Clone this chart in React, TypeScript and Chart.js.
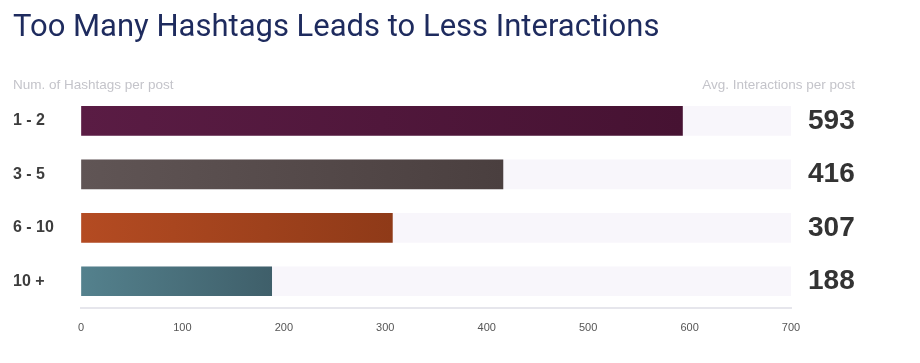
import React, { useEffect, useRef } from "react";
import { Chart, registerables } from "chart.js";

Chart.register(...registerables);

const categories = ["1 - 2", "3 - 5", "6 - 10", "10 +"];
const interactions = [593, 416, 307, 188];
const trackValues = [700, 700, 700, 700];
const valueLabels = ["593", "416", "307", "188"];
const xTicks = [0, 100, 200, 300, 400, 500, 600, 700];

const TITLE = "Too Many Hashtags Leads to Less Interactions";
const LEFT_HEADER = "Num. of Hashtags per post";
const RIGHT_HEADER = "Avg. Interactions per post";

const gradStart = ["#5a1c44", "#605555", "#b44b22", "#54818d"];
const gradEnd = ["#461232", "#4a3f3f", "#8f3a18", "#3f5f6a"];

const headerPlugin = {
  id: "headers",
  afterDraw(chart: any) {
    const { ctx, chartArea } = chart;
    ctx.save();
    ctx.font = "13.5px 'Liberation Sans', Arial, sans-serif";
    ctx.fillStyle = "#c4c4ca";
    ctx.textBaseline = "middle";
    ctx.textAlign = "left";
    ctx.fillText(LEFT_HEADER, 13, chartArea.top - 9);
    ctx.textAlign = "right";
    ctx.fillText(RIGHT_HEADER, 855, chartArea.top - 9);
    ctx.restore();
  },
};

export default function App() {
  const ref = useRef<HTMLCanvasElement | null>(null);

  useEffect(() => {
    document.body.style.margin = "0";
    const canvas = ref.current!;
    const chart = new Chart(canvas, {
      type: "bar",
      data: {
        labels: categories,
        datasets: [
          {
            label: "Avg. interactions",
            data: interactions,
            order: 1,
            grouped: false,
            barThickness: 29,
            borderWidth: 0,
            backgroundColor: (c: any) => {
              const chart = c.chart;
              const i = c.dataIndex;
              const area = chart.chartArea;
              if (!area || i === undefined) return gradStart[i ?? 0];
              const xs = chart.scales.x;
              const x0 = xs.getPixelForValue(0);
              const x1 = xs.getPixelForValue(interactions[i]);
              const g = chart.ctx.createLinearGradient(x0, 0, x1, 0);
              g.addColorStop(0, gradStart[i]);
              g.addColorStop(1, gradEnd[i]);
              return g;
            },
          },
          {
            label: "track",
            data: trackValues,
            order: 2,
            grouped: false,
            barThickness: 29,
            borderWidth: 0,
            backgroundColor: "#f8f6fb",
          },
        ],
      },
      options: {
        animation: false,
        responsive: true,
        maintainAspectRatio: false,
        indexAxis: "y",
        layout: { padding: { left: 13, right: 0, top: 0, bottom: 0 } },
        plugins: {
          legend: { display: false },
          tooltip: { enabled: false },
          title: {
            display: true,
            text: TITLE,
            align: "start",
            color: "#1e2b5e",
            font: { family: "Roboto, 'Liberation Sans', sans-serif", size: 31, weight: "normal", lineHeight: 1.2 },
            padding: { top: 10, bottom: 47 },
          },
        },
        scales: {
          x: {
            type: "linear",
            min: 0,
            max: 700,
            z: 1,
            afterBuildTicks: (s: any) => {
              s.ticks = xTicks.map((v) => ({ value: v }));
            },
            afterFit: (s: any) => {
              s.height = 55;
            },
            grid: {
              color: "rgba(255,255,255,0.12)",
              drawTicks: false,
            },
            border: { display: true, color: "#e6e6ec", width: 2 },
            ticks: {
              padding: 13,
              color: "#555",
              font: { family: "'Liberation Sans', Arial, sans-serif", size: 11 },
            },
          },
          y: {
            type: "category",
            position: "left",
            afterFit: (s: any) => {
              s.width = 68;
            },
            grid: { display: false, drawTicks: false },
            border: { display: false },
            ticks: {
              crossAlign: "far",
              color: "#3d3d3d",
              font: { family: "'Liberation Sans', Arial, sans-serif", size: 16, weight: "bold" },
            },
          },
          y2: {
            type: "category",
            position: "right",
            labels: categories,
            afterFit: (s: any) => {
              s.width = 129;
            },
            grid: { display: false, drawTicks: false },
            border: { display: false },
            ticks: {
              crossAlign: "near",
              padding: 17,
              color: "#333",
              font: { family: "'Liberation Sans', Arial, sans-serif", size: 28, weight: "bold" },
              callback: (_v: any, i: number) => valueLabels[i],
            },
          },
        },
      } as any,
      plugins: [headerPlugin],
    });
    return () => chart.destroy();
  }, []);

  return (
    <div style={{ width: 920, height: 363, position: "relative", background: "#fff" }}>
      <canvas ref={ref} />
    </div>
  );
}
